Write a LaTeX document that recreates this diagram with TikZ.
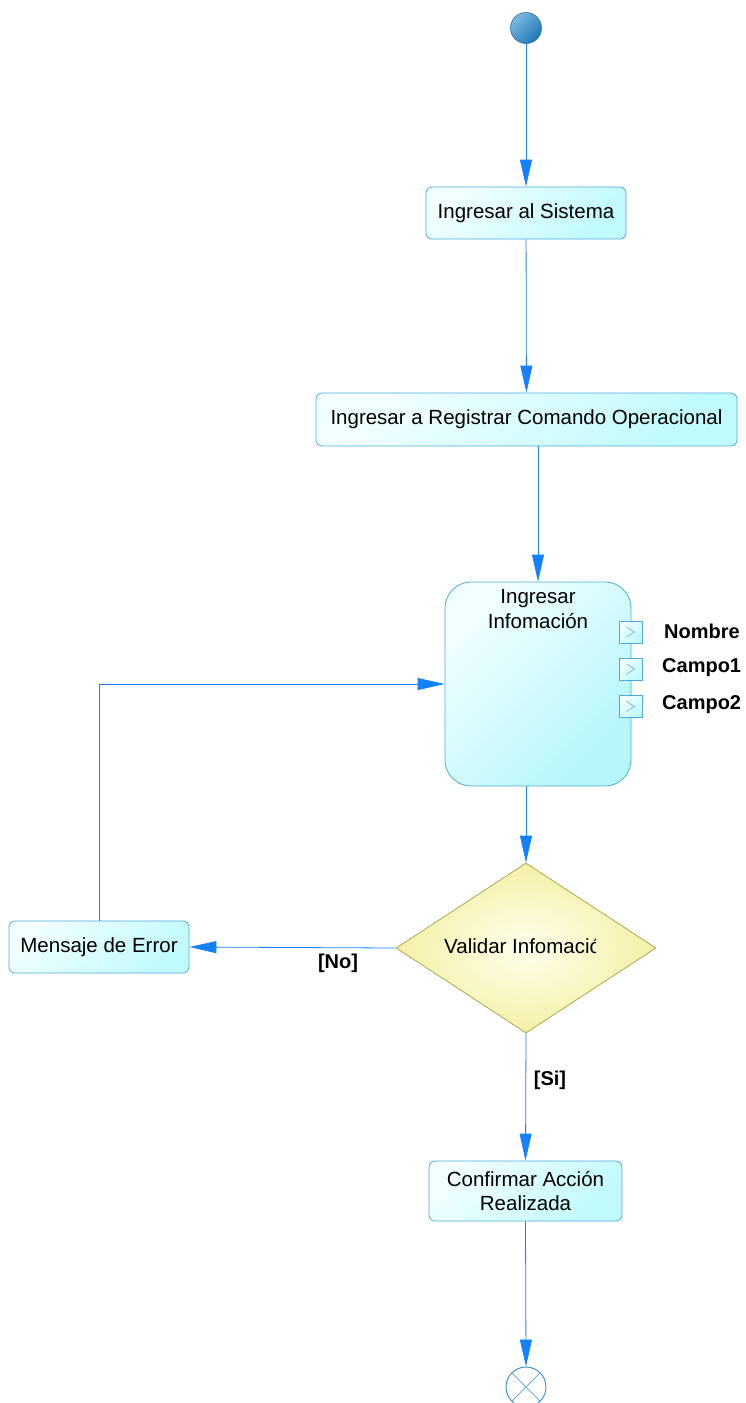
\documentclass[tikz,border=0pt]{standalone}
\usepackage{fontspec}
\setmainfont{Liberation Sans}
\usetikzlibrary{arrows.meta,shapes.geometric}

\definecolor{flowblue}{RGB}{20,130,255}
\definecolor{boxedge}{RGB}{80,170,220}
\definecolor{boxlight}{RGB}{242,255,255}
\definecolor{boxfill}{RGB}{192,250,252}
\definecolor{infofill}{RGB}{180,246,250}
\definecolor{decedge}{RGB}{170,170,80}
\definecolor{decin}{RGB}{255,255,236}
\definecolor{decout}{RGB}{244,240,168}
\definecolor{startlight}{RGB}{125,185,222}
\definecolor{startdark}{RGB}{30,120,180}
\definecolor{startedge}{RGB}{40,110,170}
\definecolor{finaledge}{RGB}{50,140,205}
\definecolor{finalx}{RGB}{110,175,225}
\definecolor{pinmark}{RGB}{110,180,225}

\newcommand{\boxfont}{\fontsize{20.5}{24.5}\selectfont}
\newcommand{\lblfont}{\fontsize{20}{24}\selectfont\bfseries}

\begin{document}
\begin{tikzpicture}[x=1pt,y=-1pt,
  flow/.style={draw=flowblue, line width=0.8pt, -{Triangle[length=27pt,width=12pt]}},
  actbox/.style={rectangle, rounded corners=6pt, draw=boxedge, line width=0.8pt,
    top color=boxlight, bottom color=boxfill, shading angle=45,
    inner sep=0pt, font=\boxfont, align=center},
  pinbox/.style={rectangle, draw=boxedge, line width=0.8pt,
    top color=boxlight, bottom color=boxfill, shading angle=45,
    minimum width=23pt, minimum height=22pt, inner sep=0pt,
    path picture={\draw[pinmark, line width=0.7pt]
      ([xshift=-4pt,yshift=5pt]path picture bounding box.center) --
      ([xshift=4pt]path picture bounding box.center) --
      ([xshift=-4pt,yshift=-5pt]path picture bounding box.center);}},
  pinlabel/.style={anchor=west, inner sep=0pt, font=\lblfont},
  guard/.style={inner sep=0pt, font=\lblfont}]

\useasboundingbox (0,0) rectangle (745,1403);

% initial node
\node[circle, minimum size=31pt, inner sep=0pt, draw=startedge, line width=0.6pt,
  top color=startlight, bottom color=startdark, shading angle=45] (start) at (526,28) {};

% actions
\node[actbox, minimum width=200pt, minimum height=52pt] (sis) at (526,213) {Ingresar al Sistema};
\node[actbox, minimum width=421pt, minimum height=53pt] (reg) at (526.5,419.5) {Ingresar a Registrar Comando Operacional};
\node[actbox, rounded corners=26pt, minimum width=186pt, minimum height=204pt,
  bottom color=infofill, shading angle=45] (info) at (538,684) {};
\node[align=center, font=\boxfont, inner sep=0pt] (infotxt) at (538,609) {Ingresar\\Infomación};

% output pins
\node[pinbox] (pin1) at (630.5,632) {};
\node[pinbox] (pin2) at (630.5,669) {};
\node[pinbox] (pin3) at (630.5,706.5) {};
\node[pinlabel] (pl1) at (664,631) {Nombre};
\node[pinlabel] (pl2) at (662,668) {Campo1};
\node[pinlabel] (pl3) at (662,705) {Campo2};

% decision, its text cut at the right
\node[diamond, draw=decedge, line width=0.8pt, inner color=decin, outer color=decout,
  minimum width=260pt, minimum height=170pt, inner sep=0pt] (val) at (526,948) {};
\begin{scope}
  \clip (440,925) rectangle (595,970);
  \node[anchor=west, font=\boxfont, inner sep=0pt] (valtxt) at (444,946) {Validar Infomación};
\end{scope}

\node[actbox, minimum width=180pt, minimum height=52pt] (err) at (99,947) {Mensaje de Error};
\node[actbox, minimum width=193pt, minimum height=60pt] (conf) at (525.5,1191) {Confirmar Acción\\Realizada};

% final node
\node[circle, draw=finaledge, line width=0.9pt, minimum size=40pt, inner sep=0pt,
  path picture={\draw[finalx, line width=0.9pt]
    (path picture bounding box.north west) -- (path picture bounding box.south east)
    (path picture bounding box.north east) -- (path picture bounding box.south west);}]
  (fin) at (526,1387) {};

% control flows
\draw[flow] (start) -- (sis);
\draw[flow] (sis) -- (reg);
\draw[flow] (reg.south -| info.north) -- (info.north);
\draw[flow] (info.south -| val.north) -- (val.north);
\draw[flow] (val.west) -- (err.east);
\draw[flow] (err.north) |- (info.west);
\draw[flow] (val.south) -- (conf.north);
\draw[flow] (conf.south) -- (fin.north);

% guards
\node[guard] (no) at (338,963) {[No]};
\node[guard] (si) at (550,1080) {[Si]};
\end{tikzpicture}
\end{document}
